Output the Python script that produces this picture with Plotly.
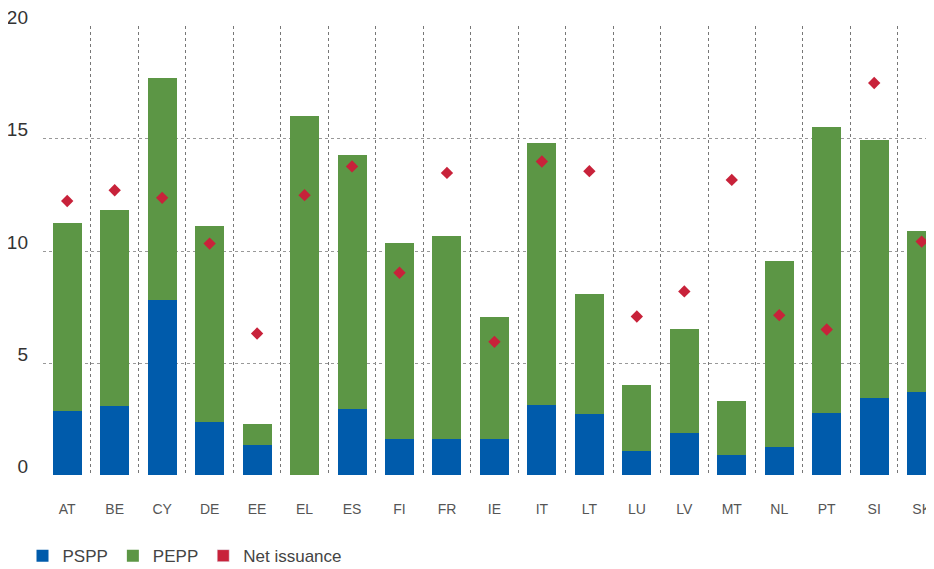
import plotly.graph_objects as go

categories = ["AT", "BE", "CY", "DE", "EE", "EL", "ES", "FI", "FR", "IE",
              "IT", "LT", "LU", "LV", "MT", "NL", "PT", "SI", "SK"]
pspp = [2.86, 3.08, 7.81, 2.37, 1.34, 0.0, 2.95, 1.61, 1.61, 1.61,
        3.13, 2.73, 1.07, 1.88, 0.89, 1.25, 2.77, 3.44, 3.71]
pepp = [8.39, 8.75, 9.91, 8.75, 0.94, 16.03, 11.34, 8.75, 9.06, 5.44,
        11.69, 5.35, 2.95, 4.64, 2.41, 8.30, 12.77, 11.52, 7.19]
net_issuance = [12.23, 12.71, 12.37, 10.33, 6.32, 12.49, 13.77, 9.03, 13.48, 5.95,
                13.99, 13.56, 7.08, 8.20, 13.17, 7.14, 6.50, 17.49, 10.42]
y_ticks = [0, 5, 10, 15, 20]

BLUE = "#005BAB"
GREEN = "#5C9645"
RED = "#C8223A"
FONT = "Liberation Sans, Arial, sans-serif"

fig = go.Figure()
fig.add_trace(go.Bar(x=categories, y=pspp, name="PSPP", marker_color=BLUE,
                     marker_line_width=0))
fig.add_trace(go.Bar(x=categories, y=pepp, name="PEPP", marker_color=GREEN,
                     marker_line_width=0))
fig.add_trace(go.Scatter(x=categories, y=net_issuance, mode="markers",
                         name="Net issuance", showlegend=False,
                         marker=dict(symbol="diamond", size=9.5, color=RED,
                                     line_width=0)))
# legend proxy (square key as in the reference)
fig.add_trace(go.Bar(x=[None], y=[None], name="Net issuance", marker_color=RED))

# the page body adds an 8px offset, so the figure is 8px smaller
fig.update_layout(
    width=926, height=561,
    margin=dict(l=35, r=0, t=18, b=93, autoexpand=False),
    barmode="stack", bargap=0.39,
    plot_bgcolor="white", paper_bgcolor="white",
    font=dict(family=FONT, color="#333333"),
    legend=dict(orientation="h", x=-0.023, xanchor="left", y=-0.178, yanchor="middle",
                font=dict(size=17, color="#444444", family=FONT),
                traceorder="normal"),
    showlegend=True,
)
fig.update_xaxes(
    type="category", range=[-0.51, 18.26], tickson="boundaries",
    showgrid=True, gridcolor="#777777", griddash="dot", gridwidth=1,
    ticks="", showline=False, zeroline=False, automargin=False,
    tickfont=dict(size=14, color="#555555", family=FONT),
    ticklabelstandoff=23, ticklabeloverflow="allow",
)
fig.update_yaxes(
    range=[-0.03, 20.03], tickvals=y_ticks, ticktext=[str(v) for v in y_ticks],
    showgrid=True, gridcolor="#999999", griddash="dot", gridwidth=1,
    zeroline=False, showline=False, ticks="", automargin=False,
    tickfont=dict(size=19, color="#333333", family=FONT),
    ticklabelstandoff=14, ticklabelshift=-9, ticklabeloverflow="allow",
)

fig.write_html("out.html")
